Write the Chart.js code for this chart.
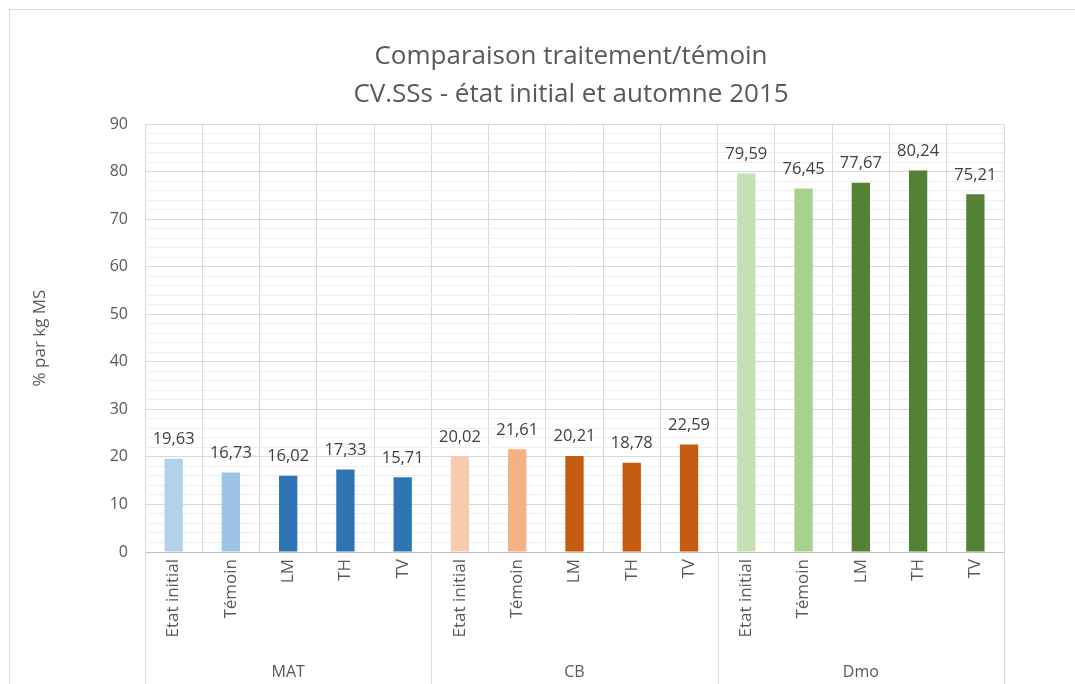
<!DOCTYPE html>
<html>
<head>
<meta charset="utf-8">
<script src="https://cdn.jsdelivr.net/npm/chart.js@4/dist/chart.umd.min.js"></script>
<style>
  html, body { margin: 0; padding: 0; background: #fff; }
  #wrap { width: 1075px; height: 684px; }
</style>
</head>
<body>
<div id="wrap"><canvas id="cvss" width="1075" height="684"></canvas></div>
<script>
"use strict";

// treatments shown under each parameter group
var treatments = ["Etat initial", "Témoin", "LM", "TH", "TV"];
var groups = ["MAT", "CB", "Dmo"];

// % par kg MS, one array per group
var matValues = [19.63, 16.73, 16.02, 17.33, 15.71];
var cbValues = [20.02, 21.61, 20.21, 18.78, 22.59];
var dmoValues = [79.59, 76.45, 77.67, 80.24, 75.21];

var yTicks = [0, 10, 20, 30, 40, 50, 60, 70, 80, 90];

var titleLines = ["Comparaison traitement/témoin", "CV.SSs - état initial et automne 2015"];

// bar colours: initial state, control, then the three treatments
var matColors = ["#b4d1ec", "#9dc3e6", "#2e75b6", "#2e75b6", "#2e75b6"];
var cbColors = ["#f8cbad", "#f4b183", "#c55a11", "#c55a11", "#c55a11"];
var dmoColors = ["#c5e0b4", "#a9d18e", "#548235", "#548235", "#548235"];

var labels = treatments.concat(treatments, treatments);
var values = matValues.concat(cbValues, dmoValues);
var colors = matColors.concat(cbColors, dmoColors);

var textColor = "#595959";
var fontFamily = "'Open Sans', 'Liberation Sans', sans-serif";

function frLabel(v) {
    return v.toFixed(2).replace(".", ",");
}

// frame, white background and the two-line title
// (title is centred on the whole chart frame, which runs past the right edge)
var framePlugin = {
    id: "frame",
    beforeDraw: function (chart) {
        var ctx = chart.ctx;
        ctx.save();
        ctx.fillStyle = "#fff";
        ctx.fillRect(0, 0, chart.width, chart.height);
        ctx.strokeStyle = "#d9d9d9";
        ctx.lineWidth = 1;
        ctx.strokeRect(9.5, 9.5, chart.width, chart.height);

        ctx.font = "26px " + fontFamily;
        ctx.fillStyle = textColor;
        ctx.textAlign = "center";
        ctx.textBaseline = "middle";
        ctx.fillText(titleLines[0], 571, 57);
        ctx.fillText(titleLines[1], 571, 95);
        ctx.restore();
    }
};

// value above each bar
var valueLabels = {
    id: "valueLabels",
    afterDatasetsDraw: function (chart) {
        var ctx = chart.ctx;
        var meta = chart.getDatasetMeta(0);
        ctx.save();
        ctx.font = "16.5px " + fontFamily;
        ctx.fillStyle = "#404040";
        ctx.textAlign = "center";
        ctx.textBaseline = "bottom";
        meta.data.forEach(function (bar, i) {
            ctx.fillText(frLabel(values[i]), bar.x, bar.y - 11);
        });
        ctx.restore();
    }
};

// second level of the category axis: group names and separators
var groupAxis = {
    id: "groupAxis",
    afterDraw: function (chart) {
        var ctx = chart.ctx;
        var x = chart.scales.x;
        var area = chart.chartArea;
        var half = (x.getPixelForValue(1) - x.getPixelForValue(0)) / 2;
        var n = treatments.length;
        ctx.save();
        ctx.strokeStyle = "#d9d9d9";
        ctx.lineWidth = 1;
        for (var g = 0; g <= groups.length; g++) {
            var px = Math.round(x.getPixelForValue(g * n) - half) + 0.5;
            if (g === groups.length) px = Math.round(x.getPixelForValue(g * n - 1) + half) + 0.5;
            ctx.beginPath();
            ctx.moveTo(px, area.bottom);
            ctx.lineTo(px, chart.height);
            ctx.stroke();
        }
        ctx.font = "16px " + fontFamily;
        ctx.fillStyle = textColor;
        ctx.textAlign = "center";
        ctx.textBaseline = "middle";
        groups.forEach(function (name, g) {
            var cx = (x.getPixelForValue(g * n) + x.getPixelForValue(g * n + n - 1)) / 2;
            ctx.fillText(name, cx, 672);
        });
        ctx.restore();
    }
};

new Chart(document.getElementById("cvss"), {
    type: "bar",
    data: {
        labels: labels,
        datasets: [{
            data: values,
            backgroundColor: colors,
            barPercentage: 0.32,
            categoryPercentage: 1
        }]
    },
    options: {
        responsive: false,
        animation: false,
        layout: { padding: { left: 22, right: 71, top: 124, bottom: 0 } },
        plugins: {
            legend: { display: false },
            tooltip: { enabled: false },
            title: { display: false }
        },
        scales: {
            x: {
                grid: { color: "#d9d9d9", drawTicks: false, offset: true },
                border: { color: "#bfbfbf" },
                ticks: {
                    color: textColor,
                    font: { family: fontFamily, size: 17 },
                    minRotation: 90,
                    maxRotation: 90,
                    autoSkip: false,
                    padding: 7
                },
                afterFit: function (scale) { scale.height = 132; }
            },
            y: {
                min: 0,
                max: 90,
                border: { display: false },
                grid: {
                    drawTicks: false,
                    color: function (c) {
                        return yTicks.indexOf(c.tick.value) >= 0 ? "#d9d9d9" : "#eeeeee";
                    }
                },
                ticks: {
                    stepSize: 2,
                    autoSkip: false,
                    padding: 17,
                    color: textColor,
                    font: { family: fontFamily, size: 16 },
                    callback: function (v) { return yTicks.indexOf(v) >= 0 ? v : ""; }
                },
                title: {
                    display: true,
                    text: "% par kg MS",
                    color: textColor,
                    font: { family: fontFamily, size: 17 },
                    padding: { top: 8, bottom: 0 }
                },
                afterFit: function (scale) { scale.width = 123; }
            }
        }
    },
    plugins: [framePlugin, valueLabels, groupAxis]
});
</script>
</body>
</html>
